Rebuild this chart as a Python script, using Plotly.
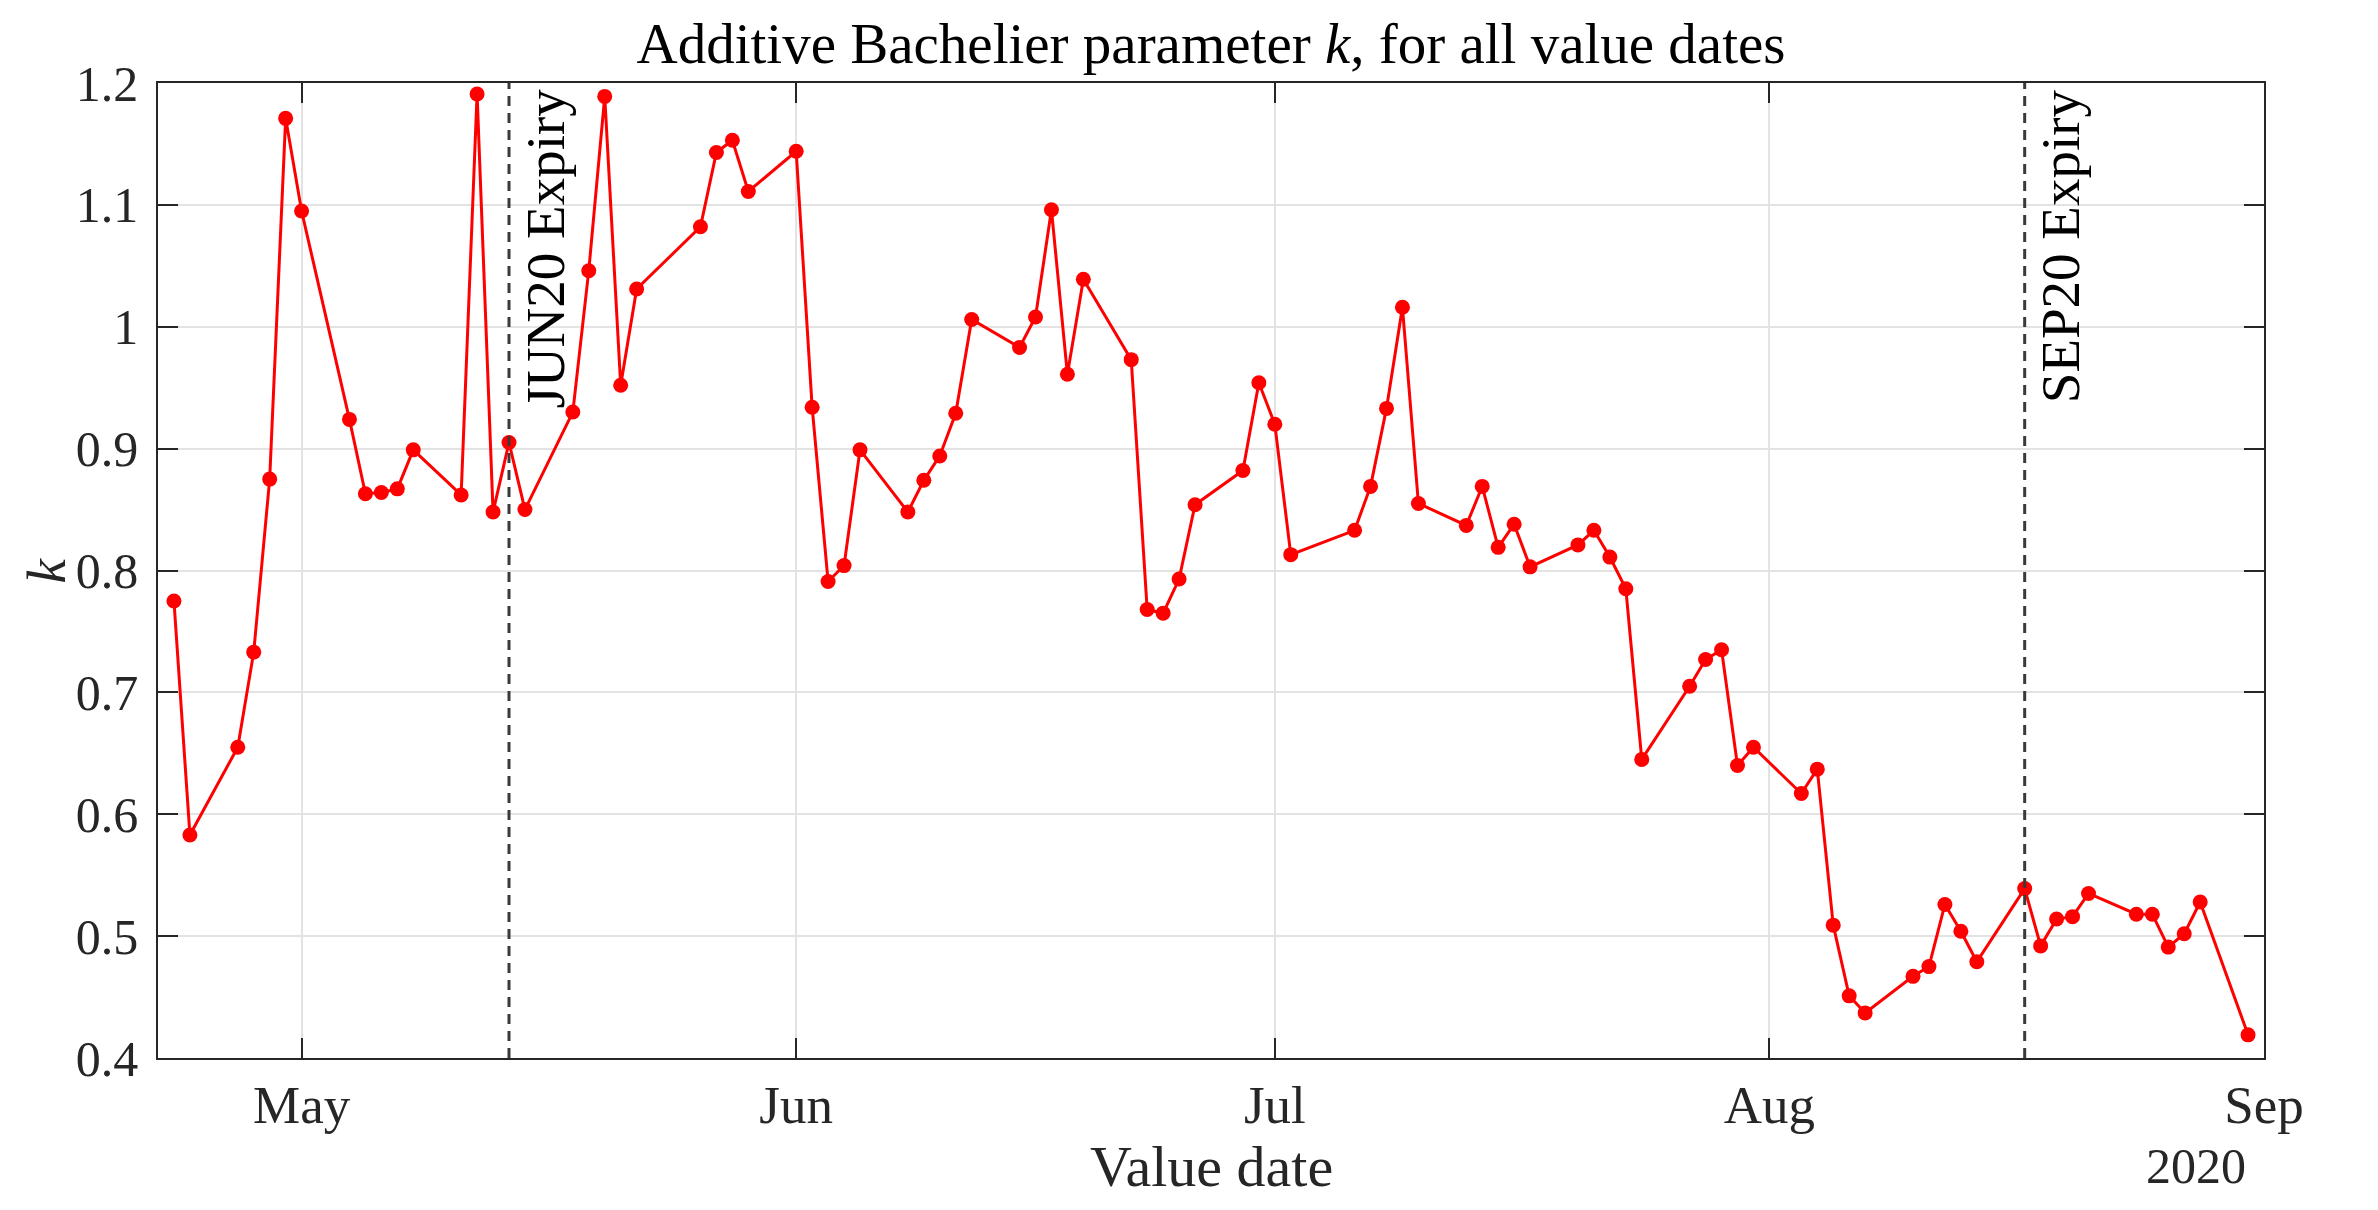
import plotly.graph_objects as go

# ---- data ----
value_dates = [
    "2020-04-23", "2020-04-24", "2020-04-27", "2020-04-28", "2020-04-29", "2020-04-30",
    "2020-05-01", "2020-05-04", "2020-05-05", "2020-05-06", "2020-05-07", "2020-05-08",
    "2020-05-11", "2020-05-12", "2020-05-13", "2020-05-14", "2020-05-15", "2020-05-18",
    "2020-05-19", "2020-05-20", "2020-05-21", "2020-05-22", "2020-05-26", "2020-05-27",
    "2020-05-28", "2020-05-29", "2020-06-01", "2020-06-02", "2020-06-03", "2020-06-04",
    "2020-06-05", "2020-06-08", "2020-06-09", "2020-06-10", "2020-06-11", "2020-06-12",
    "2020-06-15", "2020-06-16", "2020-06-17", "2020-06-18", "2020-06-19", "2020-06-22",
    "2020-06-23", "2020-06-24", "2020-06-25", "2020-06-26", "2020-06-29", "2020-06-30",
    "2020-07-01", "2020-07-02", "2020-07-06", "2020-07-07", "2020-07-08", "2020-07-09",
    "2020-07-10", "2020-07-13", "2020-07-14", "2020-07-15", "2020-07-16", "2020-07-17",
    "2020-07-20", "2020-07-21", "2020-07-22", "2020-07-23", "2020-07-24", "2020-07-27",
    "2020-07-28", "2020-07-29", "2020-07-30", "2020-07-31", "2020-08-03", "2020-08-04",
    "2020-08-05", "2020-08-06", "2020-08-07", "2020-08-10", "2020-08-11", "2020-08-12",
    "2020-08-13", "2020-08-14", "2020-08-17", "2020-08-18", "2020-08-19", "2020-08-20",
    "2020-08-21", "2020-08-24", "2020-08-25", "2020-08-26", "2020-08-27", "2020-08-28",
    "2020-08-31",
]
k_values = [
    0.775, 0.583, 0.655, 0.733, 0.875, 1.171,
    1.095, 0.924, 0.863, 0.864, 0.867, 0.899,
    0.862, 1.191, 0.848, 0.905, 0.850, 0.930,
    1.046, 1.189, 0.952, 1.031, 1.082, 1.143,
    1.153, 1.111, 1.144, 0.934, 0.791, 0.804,
    0.899, 0.848, 0.874, 0.894, 0.929, 1.006,
    0.983, 1.008, 1.096, 0.961, 1.039, 0.973,
    0.768, 0.765, 0.793, 0.854, 0.882, 0.954,
    0.920, 0.813, 0.833, 0.869, 0.933, 1.016,
    0.855, 0.837, 0.869, 0.819, 0.838, 0.803,
    0.821, 0.833, 0.811, 0.785, 0.645, 0.705,
    0.727, 0.735, 0.640, 0.655, 0.617, 0.637,
    0.509, 0.451, 0.437, 0.467, 0.475, 0.526,
    0.504, 0.479, 0.539, 0.492, 0.514, 0.516,
    0.535, 0.518, 0.518, 0.491, 0.502, 0.528,
    0.419,
]

expiry_dates = ["2020-05-14", "2020-08-17"]
expiry_labels = ["JUN20 Expiry", "SEP20 Expiry"]

x_tick_vals = ["2020-05-01", "2020-06-01", "2020-07-01", "2020-08-01", "2020-09-01"]
x_tick_text = ["May", "Jun", "Jul", "Aug", "Sep"]
y_tick_vals = [0.4, 0.5, 0.6, 0.7, 0.8, 0.9, 1.0, 1.1, 1.2]
y_tick_text = ["0.4", "0.5", "0.6", "0.7", "0.8", "0.9", "1", "1.1", "1.2"]
x_range = ["2020-04-22", "2020-09-01"]
y_range = [0.4, 1.2]

FONT = "Liberation Serif"
TXT = "#262626"
W, H = 2378, 1210
ML, MR, MT, MB = 158, 114, 83, 152

fig = go.Figure()
fig.add_trace(go.Scatter(
    x=value_dates, y=k_values, mode="lines+markers",
    line=dict(color="#ff0000", width=3),
    marker=dict(color="#ff0000", size=15, line=dict(width=0)),
    showlegend=False,
))

shapes = []
annotations = []
for d, lab in zip(expiry_dates, expiry_labels):
    shapes.append(dict(type="line", xref="x", yref="paper", x0=d, x1=d, y0=0, y1=1,
                       line=dict(color="#3a3a3a", width=3, dash="10px,7px"), layer="above"))
    annotations.append(dict(x=d, xref="x", y=1, yref="paper", text=lab, textangle=-90,
                            showarrow=False, xanchor="left", yanchor="top",
                            xshift=3, yshift=-4,
                            font=dict(family=FONT, size=55, color="#000000")))

plot_h = H - MT - MB
plot_w = W - ML - MR
annotations.append(dict(x=0.5, xref="paper", y=-(1166 - (H - MB)) / plot_h, yref="paper",
                        text="Value date", showarrow=False, xanchor="center", yanchor="middle",
                        font=dict(family=FONT, size=58, color=TXT)))
annotations.append(dict(x=(2248 - ML) / plot_w, xref="paper", y=-(1166 - (H - MB)) / plot_h,
                        yref="paper", text="2020", showarrow=False, xanchor="right",
                        yanchor="middle", font=dict(family=FONT, size=50, color=TXT)))
annotations.append(dict(x=(46 - ML) / plot_w, xref="paper", y=0.5, yref="paper",
                        text="<i>k</i>", textangle=-90, showarrow=False,
                        xanchor="center", yanchor="middle",
                        font=dict(family=FONT, size=55, color=TXT)))

axis_common = dict(
    showline=True, linecolor=TXT, linewidth=1.5, mirror="ticks",
    ticks="inside", ticklen=20, tickwidth=1.5, tickcolor=TXT,
    showgrid=True, gridcolor="#e3e3e3", gridwidth=1.5, zeroline=False,
)

fig.update_layout(
    width=W, height=H,
    margin=dict(l=ML, r=MR, t=MT, b=MB, pad=0),
    paper_bgcolor="white", plot_bgcolor="white",
    title=dict(text="Additive Bachelier parameter <i>k</i>, for all value dates",
               x=(ML + plot_w / 2) / W, xanchor="center", y=1 - 43 / H, yanchor="middle",
               font=dict(family=FONT, size=57, color="#000000")),
    xaxis=dict(type="date", range=x_range, tickmode="array", tickvals=x_tick_vals,
               ticktext=x_tick_text, ticklabelstandoff=0,
               tickfont=dict(family=FONT, size=53, color=TXT), **axis_common),
    yaxis=dict(range=y_range, tickmode="array", tickvals=y_tick_vals,
               ticktext=y_tick_text, ticklabelstandoff=8,
               tickfont=dict(family=FONT, size=50, color=TXT), **axis_common),
    shapes=shapes, annotations=annotations,
)

fig.write_html("out.html", config={"displayModeBar": False},
               post_script="document.body.style.margin='0';")
